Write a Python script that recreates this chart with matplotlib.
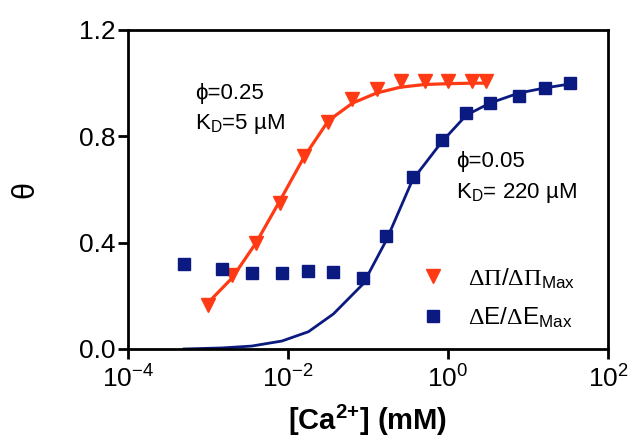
import matplotlib
matplotlib.use("Agg")
import matplotlib.pyplot as plt
import numpy as np

plt.rcParams['font.family'] = ['Liberation Sans', 'DejaVu Sans']
plt.rcParams['mathtext.fontset'] = 'custom'
plt.rcParams['mathtext.rm'] = 'Liberation Serif'
plt.rcParams['mathtext.sf'] = 'Liberation Sans'
plt.rcParams['mathtext.it'] = 'Liberation Sans:italic'
plt.rcParams['mathtext.bf'] = 'Liberation Sans:bold'

# Red series: ΔΠ/ΔΠmax
pi_x = [0.001, 0.002, 0.004, 0.008, 0.016, 0.032, 0.064, 0.128, 0.256, 0.512, 1.0, 2.0, 3.0]
pi_y = [0.166, 0.278, 0.399, 0.549, 0.726, 0.854, 0.940, 0.978, 1.008, 1.010, 1.008, 1.008, 1.008]
pi_fit = [0.174, 0.267, 0.400, 0.560, 0.724, 0.859, 0.925, 0.963, 0.985, 0.995, 0.998, 1.000, 1.000]

# Blue series: ΔE/ΔEmax
e_x = [0.0005, 0.0015, 0.0035, 0.0084, 0.018, 0.037, 0.087, 0.17, 0.36, 0.84, 1.7, 3.35, 7.7, 16.3, 33.5]
e_y = [0.320, 0.300, 0.286, 0.286, 0.293, 0.290, 0.267, 0.425, 0.647, 0.787, 0.888, 0.926, 0.952, 0.982, 1.000]
e_fit = [0.000, 0.004, 0.011, 0.030, 0.065, 0.132, 0.245, 0.410, 0.636, 0.780, 0.880, 0.925, 0.963, 0.982, 0.997]

red = '#FF3A14'
blue = '#0B1A80'

fig = plt.figure(figsize=(6.35, 4.42), dpi=100)
ax = fig.add_axes([128/635, 1-349/442, 480/635, 319/442])

ax.plot(pi_x, pi_fit, color=red, lw=2.3, zorder=2)
ax.plot(e_x, e_fit, color=blue, lw=2.0, zorder=2)
ax.plot(pi_x, pi_y, linestyle='none', marker='v', ms=10, color=red, mec=red,
        label=r'$\Delta\Pi\mathsf{/}\Delta\Pi_{\mathsf{Max}}$', zorder=3)
ax.plot(e_x, e_y, linestyle='none', marker='s', ms=9, color=blue, mec=blue,
        label=r'$\Delta\mathsf{E/}\Delta\mathsf{E}_{\mathsf{Max}}$', zorder=3)

ax.set_xscale('log')
ax.set_xlim(1e-4, 1e2)
ax.set_ylim(0, 1.2)
ax.set_xticks([1e-4, 1e-2, 1e0, 1e2])
ax.xaxis.set_minor_locator(matplotlib.ticker.NullLocator())
ax.set_yticks([0.0, 0.4, 0.8, 1.2])
ax.set_yticklabels(['0.0', '0.4', '0.8', '1.2'])

for s in ax.spines.values():
    s.set_linewidth(2.0)
ax.tick_params(axis='both', which='major', direction='out', length=7, width=2.0,
               labelsize=19, top=False, right=False)
ax.tick_params(axis='y', pad=2)
ax.tick_params(axis='x', pad=5)

ax.set_xlabel(r'[Ca$^{\mathbf{2{+}}}$] (mM)', fontsize=21, fontweight='bold', labelpad=7)
ax.set_ylabel('θ', fontsize=22, labelpad=28)

fs_ann = 16
ax.text(195, 442-93, 'ϕ=0.25', transform=None, fontsize=fs_ann, va='center', ha='left')
ax.text(195, 442-124, r'K$_{\mathsf{D}}$=5 µM', transform=None, fontsize=fs_ann, va='center', ha='left')
ax.text(456, 442-162, 'ϕ=0.05', transform=None, fontsize=fs_ann, va='center', ha='left')
ax.text(456, 442-193, r'K$_{\mathsf{D}}$= 220 µM', transform=None, fontsize=fs_ann, va='center', ha='left')

leg = ax.legend(loc='upper left', bbox_to_anchor=(421/635, 1-266/442), bbox_transform=fig.transFigure,
                frameon=False, fontsize=17.5, handletextpad=1.0, labelspacing=0.6,
                handlelength=0.95, borderaxespad=0, borderpad=0)

fig.savefig('out.png', dpi=100)
